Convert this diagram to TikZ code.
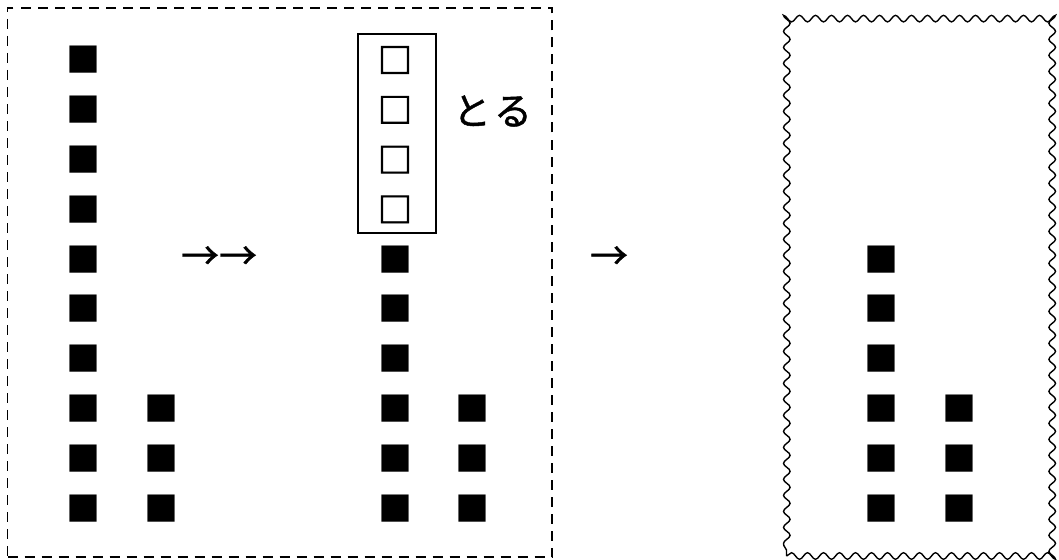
\documentclass[tikz,border=0pt]{standalone}
\usepackage{fontspec}
\newfontfamily\cjk{Noto Sans CJK JP}
\newfontfamily\cjkm[FakeBold=1.2]{Noto Sans CJK JP}
\newfontfamily\cjkh[FakeBold=2.5]{Noto Sans CJK JP}
\usetikzlibrary{decorations.pathmorphing}
\begin{document}
\begin{tikzpicture}[x=1pt,y=-1pt,
 sqf/.style={font=\cjk\fontsize{34}{34}\selectfont, inner sep=0pt},
 hsq/.style={font=\cjkh\fontsize{34}{34}\selectfont, inner sep=0pt},
 lbl/.style={font=\cjkm\fontsize{38}{38}\selectfont, inner sep=0pt},
 arr/.style={font=\cjkm\fontsize{38}{38}\selectfont, inner sep=0pt},
 dashbox/.style={draw, line width=1.8pt, dash pattern=on 10pt off 7pt, inner sep=0pt},
 wavybox/.style={draw, line width=1.4pt, decorate, decoration={snake, segment length=16pt, amplitude=3.3pt}, inner sep=0pt},
 takebox/.style={draw, line width=1.5pt, minimum width=78pt, minimum height=199pt, inner sep=0pt}
]
\useasboundingbox (0,0) rectangle (1059,559);
\node[dashbox, minimum width=544.5pt, minimum height=549pt] (leftframe) at (279.75,282.5) {};
\node[wavybox, minimum width=266pt, minimum height=546pt] (rightframe) at (919.5,283) {};
\node[takebox] (take) at (396.85,133.5) {};
\foreach \i in {0,...,9} \node[sqf] (a\i) at (83,{60+49.8*\i}) {■};
\foreach \i in {7,8,9} \node[sqf] (b\i) at (161.5,{60+49.8*\i}) {■};
\foreach \i in {0,...,3} \node[hsq] (c\i) at (395,{60+49.8*\i}) {□};
\foreach \i in {4,...,9} \node[sqf] (c\i) at (395,{60+49.8*\i}) {■};
\foreach \i in {7,8,9} \node[sqf] (d\i) at (472.7,{60+49.8*\i}) {■};
\foreach \i in {4,...,9} \node[sqf] (e\i) at (881.7,{60+49.8*\i}) {■};
\foreach \i in {7,8,9} \node[sqf] (f\i) at (959.7,{60+49.8*\i}) {■};
\node[lbl] (toru) at (492.5,111) {と\kern3pt る};
\node[arr] (arr1) at (219,258) {→→};
\node[arr] (arr2) at (609,258) {→};
\end{tikzpicture}
\end{document}
